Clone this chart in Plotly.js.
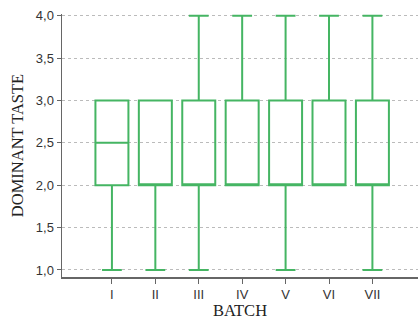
<!DOCTYPE html>
<html>
<head>
<meta charset="utf-8">
<script src="https://cdn.plot.ly/plotly-3.0.1.min.js"></script>
<style>html,body{margin:0;padding:0;background:#fff}#chart{width:420px;height:320px}</style>
</head>
<body>
<div id="chart"></div>
<script>
var batches = ['I', 'II', 'III', 'IV', 'V', 'VI', 'VII'];
var minVals = [1, 1, 1, 2, 1, 2, 1];
var q1Vals = [2, 2, 2, 2, 2, 2, 2];
var medianVals = [2.5, 2, 2, 2, 2, 2, 2];
var q3Vals = [3, 3, 3, 3, 3, 3, 3];
var maxVals = [3, 3, 4, 4, 4, 4, 4];
var yTicks = [1, 1.5, 2, 2.5, 3, 3.5, 4];

var trace = {
  type: 'box',
  x: batches,
  q1: q1Vals,
  median: medianVals,
  q3: q3Vals,
  lowerfence: minVals,
  upperfence: maxVals,
  width: 0.76,
  whiskerwidth: 0.6,
  line: {color: '#45b563', width: 2},
  fillcolor: 'rgba(255,255,255,0)',
  hoverinfo: 'skip',
  showlegend: false
};

var layout = {
  width: 420, height: 320,
  margin: {l: 62, r: 2, t: 14, b: 43},
  paper_bgcolor: '#fff', plot_bgcolor: '#fff',
  separators: ',.',
  font: {family: 'Liberation Sans, Arial, sans-serif', size: 13, color: '#333'},
  xaxis: {
    type: 'category',
    range: [-1.15, 7.05],
    showgrid: false,
    showline: true, linecolor: '#666', linewidth: 1.5,
    ticks: 'outside', ticklen: 5, tickcolor: '#666',
    tickfont: {size: 13, color: '#333'},
    title: {text: 'BATCH', font: {family: 'Liberation Serif, Times New Roman, serif', size: 16.5, color: '#222'}, standoff: 2},
    zeroline: false
  },
  yaxis: {
    range: [0.917, 4.02],
    tickvals: yTicks,
    tickformat: '.1f',
    showgrid: true, gridcolor: '#bbb', griddash: 'dot', gridwidth: 1,
    showline: true, linecolor: '#666', linewidth: 1.5,
    ticks: 'outside', ticklen: 4, tickcolor: '#666',
    tickfont: {size: 13, color: '#333'},
    title: {text: 'DOMINANT TASTE', font: {family: 'Liberation Serif, Times New Roman, serif', size: 16.5, color: '#222'}, standoff: 8},
    zeroline: false
  }
};

Plotly.newPlot('chart', [trace], layout, {displayModeBar: false, staticPlot: true});
</script>
</body>
</html>
